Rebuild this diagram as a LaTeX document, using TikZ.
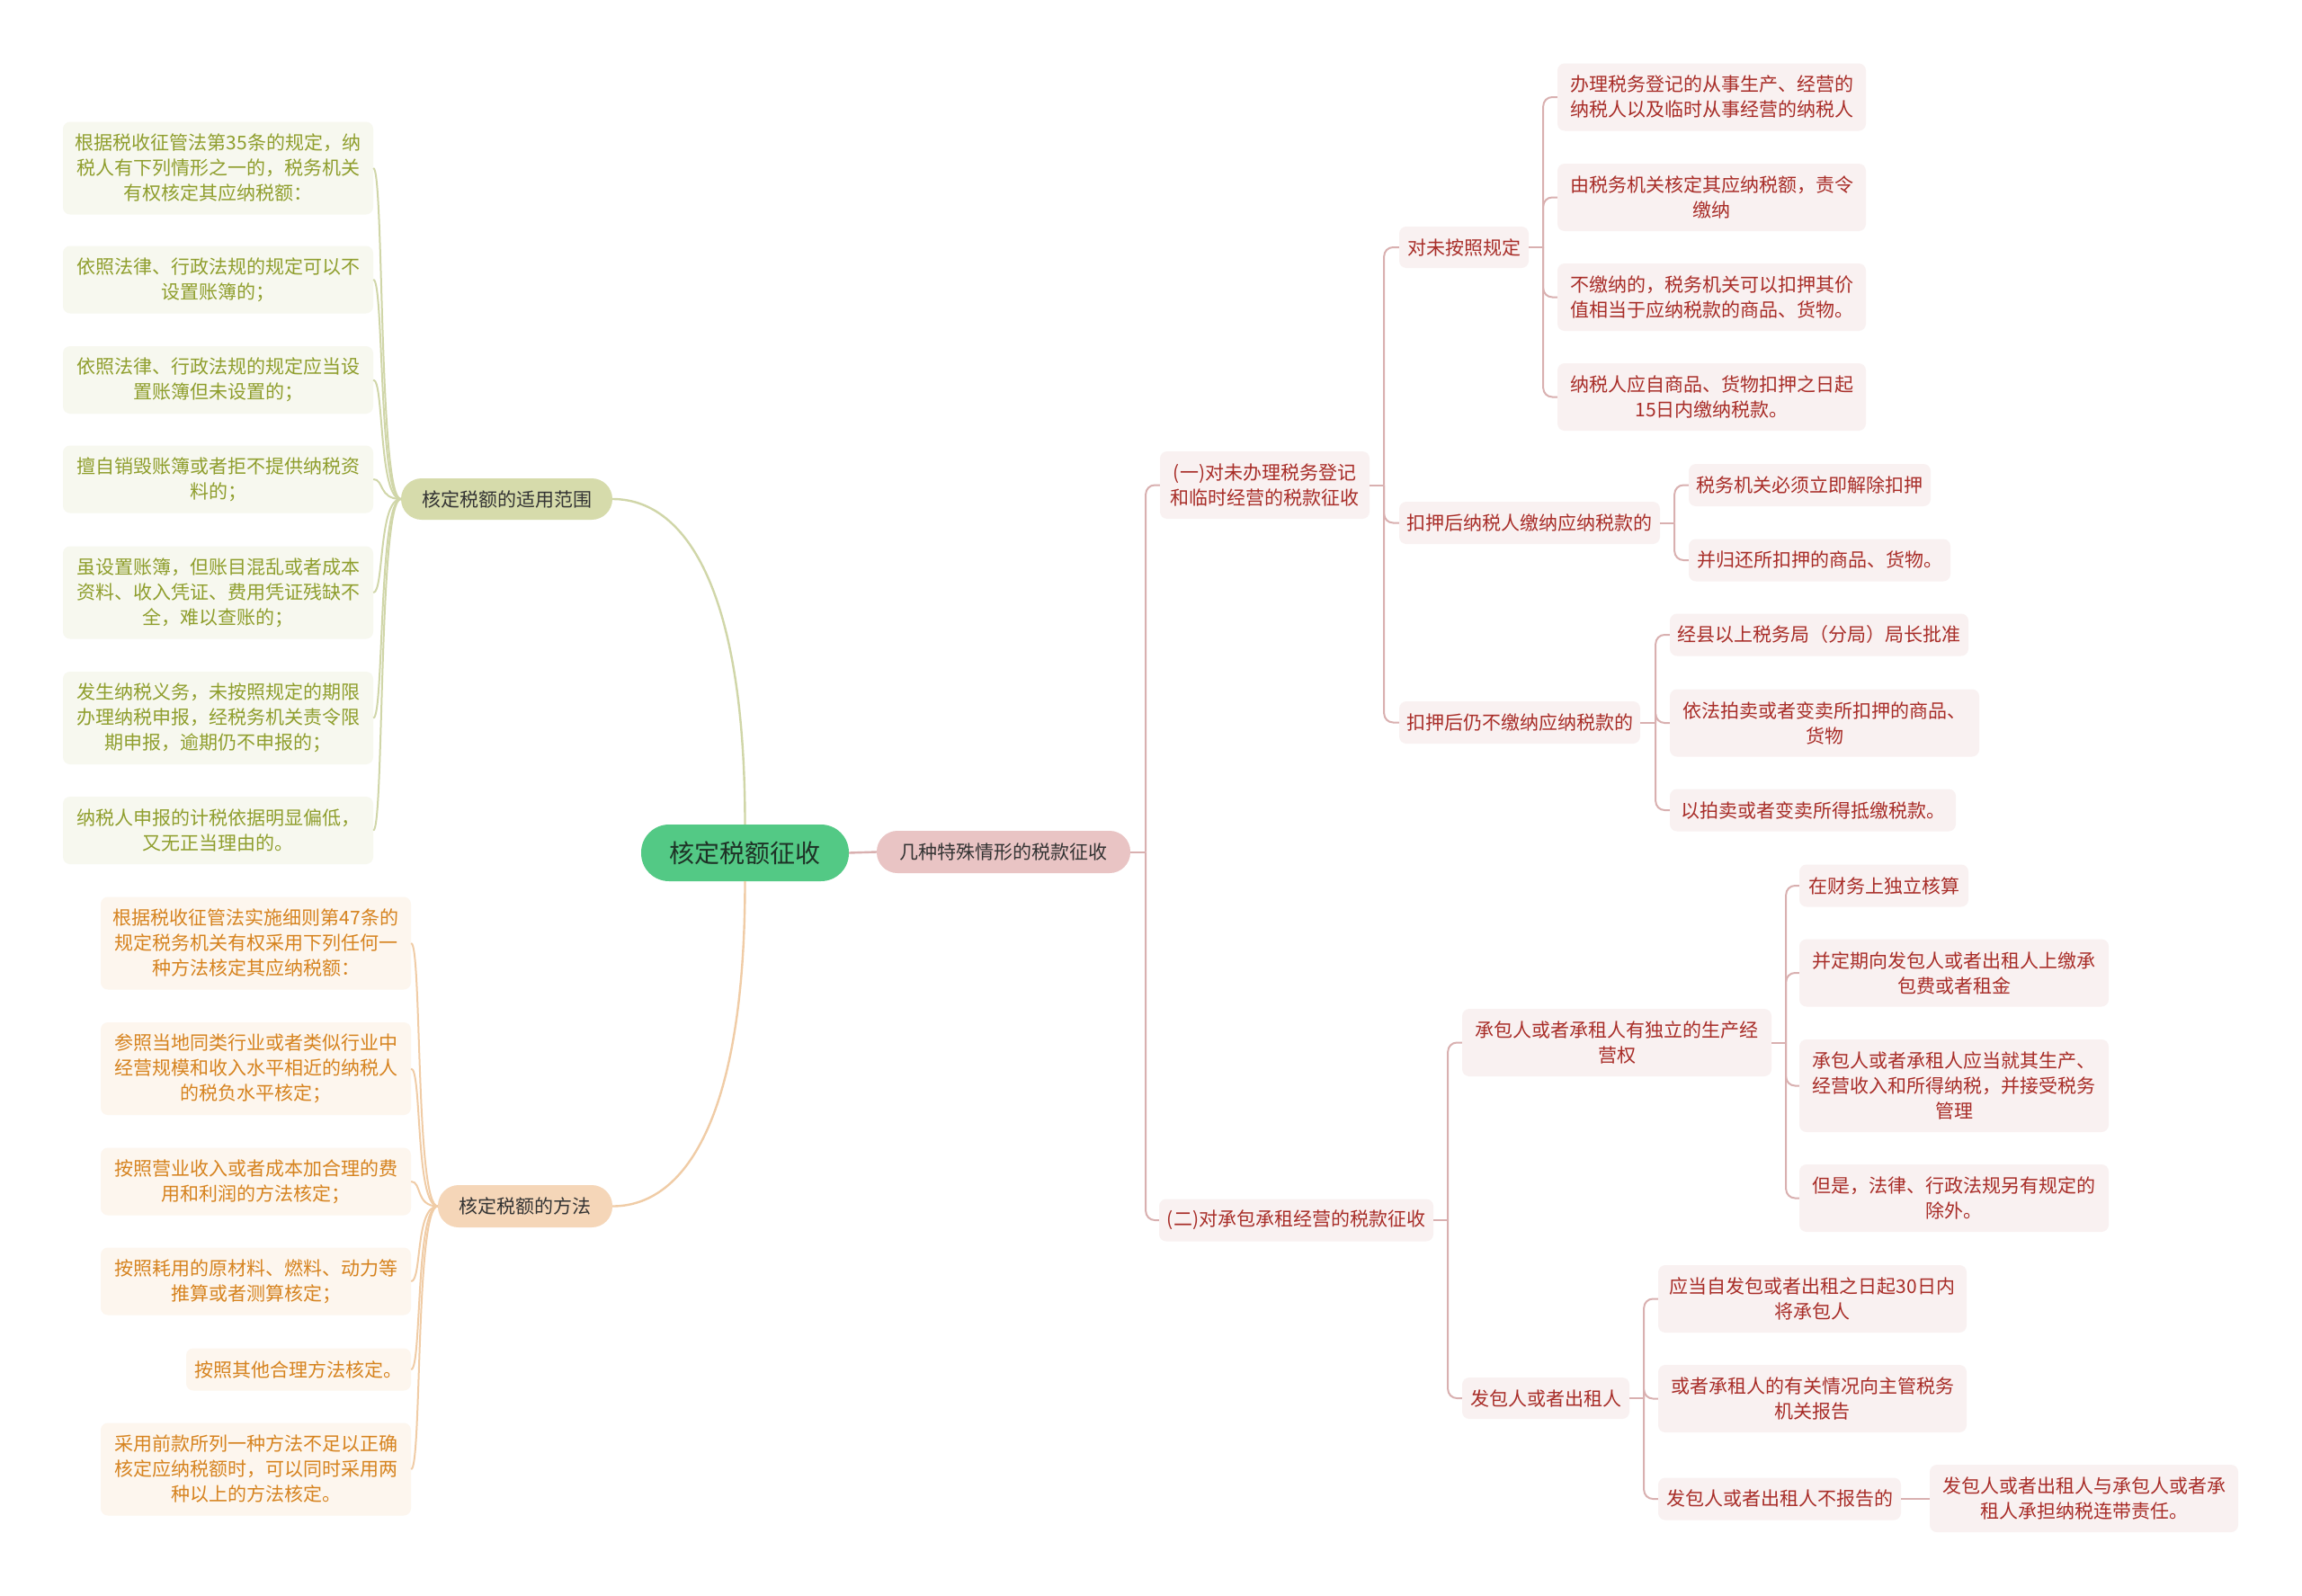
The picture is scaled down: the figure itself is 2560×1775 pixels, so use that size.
\documentclass[tikz,border=0pt]{standalone}
\usepackage{fontspec}
\newfontfamily\cjk{Noto Sans CJK SC}
\usetikzlibrary{calc}
\definecolor{rootfill}{RGB}{83,201,133}
\definecolor{roottext}{RGB}{30,50,38}
\definecolor{pinkpill}{RGB}{233,196,196}
\definecolor{olivepill}{RGB}{214,219,171}
\definecolor{peachpill}{RGB}{245,214,184}
\definecolor{ofill}{RGB}{247,248,239}
\definecolor{otext}{RGB}{143,158,45}
\definecolor{oline}{RGB}{208,214,168}
\definecolor{pfill}{RGB}{253,246,238}
\definecolor{ptext}{RGB}{214,131,31}
\definecolor{pline}{RGB}{240,204,166}
\definecolor{rfill}{RGB}{249,241,241}
\definecolor{rtext}{RGB}{168,45,40}
\definecolor{rline}{RGB}{217,176,176}
\begin{document}
\begin{tikzpicture}[x=1pt,y=-1pt,
  base/.style={inner sep=0pt, align=center, font=\cjk\fontsize{21}{28}\selectfont},
  oleaf/.style={base, fill=ofill, text=otext, rounded corners=8pt, minimum width=345pt},
  pleaf/.style={base, fill=pfill, text=ptext, rounded corners=8pt, minimum width=345pt},
  rleaf/.style={base, fill=rfill, text=rtext, rounded corners=8pt},
  pill/.style={base, text=black!80, rounded corners=23pt, minimum height=47pt},
  olink/.style={draw=oline, line width=2pt},
  plink/.style={draw=pline, line width=2pt},
  rlink/.style={draw=rline, line width=2pt},
  relbow/.style={draw=rline, line width=2pt, rounded corners=10pt},
  h1/.style={minimum height=47pt},
  h2/.style={minimum height=75pt},
  h3/.style={minimum height=103pt}]
\useasboundingbox (0,0) rectangle (2560,1775);
\fill[white] (0,0) rectangle (2560,1775);

% root and main branches
\node[base, fill=rootfill, text=roottext, rounded corners=31pt, minimum width=231pt, minimum height=63pt, font=\cjk\fontsize{28}{32}\selectfont] (root) at (828.5,948.5) {核定税额征收};
\node[pill, fill=pinkpill, minimum width=282pt] (sp) at (1116,947.5) {几种特殊情形的税款征收};
\node[pill, fill=olivepill, minimum width=235pt, minimum height=46pt] (scope) at (563.5,555) {核定税额的适用范围};
\node[pill, fill=peachpill, minimum width=194pt] (meth) at (584,1341.5) {核定税额的方法};

% olive leaves
\node[oleaf, h3] (L1) at (242.5,187) {根据税收征管法第35条的规定，纳\\税人有下列情形之一的，税务机关\\有权核定其应纳税额：};
\node[oleaf, h2] (L2) at (242.5,311) {依照法律、行政法规的规定可以不\\设置账簿的；};
\node[oleaf, h2] (L3) at (242.5,422.5) {依照法律、行政法规的规定应当设\\置账簿但未设置的；};
\node[oleaf, h2] (L4) at (242.5,533) {擅自销毁账簿或者拒不提供纳税资\\料的；};
\node[oleaf, h3] (L5) at (242.5,659) {虽设置账簿，但账目混乱或者成本\\资料、收入凭证、费用凭证残缺不\\全，难以查账的；};
\node[oleaf, h3] (L6) at (242.5,798.5) {发生纳税义务，未按照规定的期限\\办理纳税申报，经税务机关责令限\\期申报，逾期仍不申报的；};
\node[oleaf, h2] (L7) at (242.5,923.5) {纳税人申报的计税依据明显偏低，\\又无正当理由的。};

% peach leaves
\node[pleaf, h3] (M1) at (284.5,1049) {根据税收征管法实施细则第47条的\\规定税务机关有权采用下列任何一\\种方法核定其应纳税额：};
\node[pleaf, h3] (M2) at (284.5,1188.5) {参照当地同类行业或者类似行业中\\经营规模和收入水平相近的纳税人\\的税负水平核定；};
\node[pleaf, h2] (M3) at (284.5,1314) {按照营业收入或者成本加合理的费\\用和利润的方法核定；};
\node[pleaf, h2] (M4) at (284.5,1425) {按照耗用的原材料、燃料、动力等\\推算或者测算核定；};
\node[pleaf, h1, minimum width=250pt] (M5) at (332,1523) {按照其他合理方法核定。};
\node[pleaf, h3] (M6) at (284.5,1634) {采用前款所列一种方法不足以正确\\核定应纳税额时，可以同时采用两\\种以上的方法核定。};

% right side, level 2
\node[rleaf, h2, minimum width=233pt] (one) at (1406.5,539.5) {(一)对未办理税务登记\\和临时经营的税款征收};
\node[rleaf, h1, minimum width=305pt] (two) at (1441.5,1357) {(二)对承包承租经营的税款征收};

% under (one)
\node[rleaf, minimum height=46pt, minimum width=144pt] (wa) at (1628,275) {对未按照规定};
\node[rleaf, h1, minimum width=290pt] (kb) at (1701,581.5) {扣押后纳税人缴纳应纳税款的};
\node[rleaf, h1, minimum width=268pt] (kc) at (1690,803.5) {扣押后仍不缴纳应纳税款的};

\node[rleaf, h2, minimum width=343pt] (A1) at (1903.5,108) {办理税务登记的从事生产、经营的\\纳税人以及临时从事经营的纳税人};
\node[rleaf, h2, minimum width=343pt] (A2) at (1903.5,219.5) {由税务机关核定其应纳税额，责令\\缴纳};
\node[rleaf, h2, minimum width=343pt] (A3) at (1903.5,330.5) {不缴纳的，税务机关可以扣押其价\\值相当于应纳税款的商品、货物。};
\node[rleaf, h2, minimum width=343pt] (A4) at (1903.5,441.5) {纳税人应自商品、货物扣押之日起\\15日内缴纳税款。};

\node[rleaf, h1, minimum width=269pt] (B1) at (2012.5,539.5) {税务机关必须立即解除扣押};
\node[rleaf, h1, minimum width=291pt] (B2) at (2023.5,623) {并归还所扣押的商品、货物。};

\node[rleaf, h1, minimum width=332pt] (C1) at (2023,706) {经县以上税务局（分局）局长批准};
\node[rleaf, h2, minimum width=344pt] (C2) at (2029,804) {依法拍卖或者变卖所扣押的商品、\\货物};
\node[rleaf, h1, minimum width=318pt] (C3) at (2016,901) {以拍卖或者变卖所得抵缴税款。};

% under (two)
\node[rleaf, h2, minimum width=344pt] (cb) at (1798,1159.5) {承包人或者承租人有独立的生产经\\营权};
\node[rleaf, minimum height=46pt, minimum width=186pt] (fb) at (1719,1555) {发包人或者出租人};

\node[rleaf, h1, minimum width=188pt] (D1) at (2095,985) {在财务上独立核算};
\node[rleaf, h2, minimum width=344pt] (D2) at (2173,1082) {并定期向发包人或者出租人上缴承\\包费或者租金};
\node[rleaf, h3, minimum width=344pt] (D3) at (2173,1207.5) {承包人或者承租人应当就其生产、\\经营收入和所得纳税，并接受税务\\管理};
\node[rleaf, h2, minimum width=344pt] (D4) at (2173,1332.5) {但是，法律、行政法规另有规定的\\除外。};

\node[rleaf, h2, minimum width=343pt] (E1) at (2015.5,1444.5) {应当自发包或者出租之日起30日内\\将承包人};
\node[rleaf, h2, minimum width=343pt] (E2) at (2015.5,1555.5) {或者承租人的有关情况向主管税务\\机关报告};
\node[rleaf, h1, minimum width=270pt] (E3) at (1979,1667) {发包人或者出租人不报告的};
\node[rleaf, h2, minimum width=343pt] (E4) at (2317.5,1666.5) {发包人或者出租人与承包人或者承\\租人承担纳税连带责任。};

% ---- connectors ----
\begin{scope}[on background layer/.try]
\end{scope}
% root to branches
\draw[olink, line width=2.4pt] (scope.east) .. controls (760,555) and (828.5,650) .. (root.north);
\draw[plink, line width=2.4pt] (root.south) .. controls (828.5,1247) and (760,1341.5) .. (meth.east);
\draw[rlink, line width=2.4pt] (root.east) -- (sp.west);

% olive leaf curves
\foreach \n in {L1,L2,L3,L4,L5,L6,L7}{
  \draw[olink] (scope.west) .. controls ($(scope.west)+(-25,0)$) and ($(\n.east)+(12,0)$) .. (\n.east);
}
% peach leaf curves
\foreach \n in {M1,M2,M3,M4,M5,M6}{
  \draw[plink] (meth.west) .. controls ($(meth.west)+(-25,0)$) and ($(\n.east)+(12,0)$) .. (\n.east);
}

% right elbows
\coordinate (t0) at ($(sp.east)+(17,0)$);
\draw[rlink] (sp.east) -- (t0);
\foreach \n in {one,two}{ \draw[relbow] (t0) |- (\n.west); }

\coordinate (t1) at ($(one.east)+(16,0)$);
\draw[rlink] (one.east) -- (t1);
\foreach \n in {wa,kb,kc}{ \draw[relbow] (t1) |- (\n.west); }

\coordinate (t2) at ($(wa.east)+(16,0)$);
\draw[rlink] (wa.east) -- (t2);
\foreach \n in {A1,A2,A3,A4}{ \draw[relbow] (t2) |- (\n.west); }

\coordinate (t3) at ($(kb.east)+(16,0)$);
\draw[rlink] (kb.east) -- (t3);
\foreach \n in {B1,B2}{ \draw[relbow] (t3) |- (\n.west); }

\coordinate (t4) at ($(kc.east)+(17,0)$);
\draw[rlink] (kc.east) -- (t4);
\foreach \n in {C1,C2,C3}{ \draw[relbow] (t4) |- (\n.west); }

\coordinate (t5) at ($(two.east)+(16,0)$);
\draw[rlink] (two.east) -- (t5);
\foreach \n in {cb,fb}{ \draw[relbow] (t5) |- (\n.west); }

\coordinate (t6) at ($(cb.east)+(16,0)$);
\draw[rlink] (cb.east) -- (t6);
\foreach \n in {D1,D2,D3,D4}{ \draw[relbow] (t6) |- (\n.west); }

\coordinate (t7) at ($(fb.east)+(16,0)$);
\draw[rlink] (fb.east) -- (t7);
\foreach \n in {E1,E2,E3}{ \draw[relbow] (t7) |- (\n.west); }

\draw[rlink] (E3.east) -- (E3.east -| E4.west);
\end{tikzpicture}
\end{document}
